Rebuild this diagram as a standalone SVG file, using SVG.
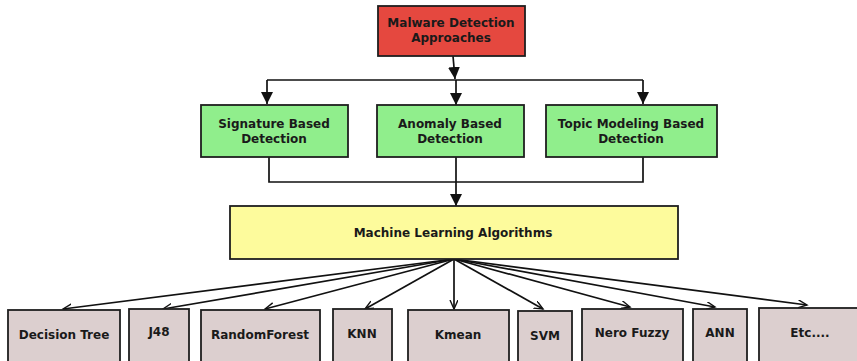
<svg xmlns="http://www.w3.org/2000/svg" width="857" height="361" viewBox="0 0 857 361">
<defs>
<style>
.box{stroke:#1e1e1e;stroke-width:1.8}
.red{fill:#e5483f}
.green{fill:#90ee8c}
.yellow{fill:#fdfb9c}
.grey{fill:#dccfcf}
text{font-family:"DejaVu Sans",sans-serif;font-weight:bold;font-size:12px;fill:#1a1a1a;text-anchor:middle}
.c{fill:none;stroke:#111;stroke-width:1.7}
</style>
<marker id="fa" markerWidth="14" markerHeight="14" refX="12" refY="6" orient="auto" markerUnits="userSpaceOnUse">
<path d="M0,0 L12,6 L0,12 z" fill="#111"/>
</marker>
<marker id="oa" markerWidth="12" markerHeight="12" refX="9" refY="4" orient="auto" markerUnits="userSpaceOnUse">
<path d="M0,0 L9,4 L0,8" fill="none" stroke="#111" stroke-width="1.4"/>
</marker>
</defs>
<rect width="857" height="361" fill="#fff"/>
<g id="connectors">
<path class="c" d="M453,56 L455,79" marker-end="url(#fa)"/>
<path class="c" d="M267,80 L643,80"/>
<path class="c" d="M267,80 L267,104" marker-end="url(#fa)"/>
<path class="c" d="M456,80 L456,105" marker-end="url(#fa)"/>
<path class="c" d="M643,80 L643,104" marker-end="url(#fa)"/>
<path class="c" d="M269,157 L269,182 L643,182 L643,157"/>
<path class="c" d="M456,157 L456,206" marker-end="url(#fa)"/>
<path class="c" d="M454,259 L63,309" marker-end="url(#oa)"/>
<path class="c" d="M454,259 L163,309" marker-end="url(#oa)"/>
<path class="c" d="M454,259 L265,309" marker-end="url(#oa)"/>
<path class="c" d="M454,259 L365,309" marker-end="url(#oa)"/>
<path class="c" d="M454,259 L454,309" marker-end="url(#oa)"/>
<path class="c" d="M454,259 L543,309" marker-end="url(#oa)"/>
<path class="c" d="M454,259 L630,307" marker-end="url(#oa)"/>
<path class="c" d="M454,259 L715,307" marker-end="url(#oa)"/>
<path class="c" d="M454,259 L807,305" marker-end="url(#oa)"/>
</g>
<g id="malware">
<rect class="box red" x="378" y="6" width="147" height="50"/>
<text x="451" y="27">Malware Detection</text>
<text x="451" y="42">Approaches</text>
</g>
<g id="signature">
<rect class="box green" x="201" y="105" width="147" height="52"/>
<text x="274" y="128">Signature Based</text>
<text x="274" y="143">Detection</text>
</g>
<g id="anomaly">
<rect class="box green" x="377" y="105" width="147" height="52"/>
<text x="450" y="128">Anomaly Based</text>
<text x="450" y="143">Detection</text>
</g>
<g id="topic">
<rect class="box green" x="546" y="105" width="171" height="52"/>
<text x="631" y="128">Topic Modeling Based</text>
<text x="631" y="143">Detection</text>
</g>
<g id="ml">
<rect class="box yellow" x="230" y="206" width="448" height="53"/>
<text x="453" y="237">Machine Learning Algorithms</text>
</g>
<g id="dt">
<rect class="box grey" x="8" y="310" width="112" height="52"/>
<text x="64" y="339">Decision Tree</text>
</g>
<g id="j48">
<rect class="box grey" x="129" y="309" width="60" height="53"/>
<text x="159" y="336">J48</text>
</g>
<g id="rf">
<rect class="box grey" x="201" y="310" width="119" height="52"/>
<text x="260" y="339">RandomForest</text>
</g>
<g id="knn">
<rect class="box grey" x="333" y="309" width="59" height="53"/>
<text x="362" y="338">KNN</text>
</g>
<g id="kmean">
<rect class="box grey" x="408" y="310" width="101" height="52"/>
<text x="458" y="339">Kmean</text>
</g>
<g id="svm">
<rect class="box grey" x="518" y="311" width="54" height="51"/>
<text x="545" y="340">SVM</text>
</g>
<g id="nero">
<rect class="box grey" x="582" y="309" width="101" height="53"/>
<text x="632" y="337">Nero Fuzzy</text>
</g>
<g id="ann">
<rect class="box grey" x="693" y="309" width="54" height="53"/>
<text x="720" y="337">ANN</text>
</g>
<g id="etc">
<rect class="box grey" x="759" y="308" width="100" height="54"/>
<text x="810" y="337">Etc....</text>
</g>
</svg>
